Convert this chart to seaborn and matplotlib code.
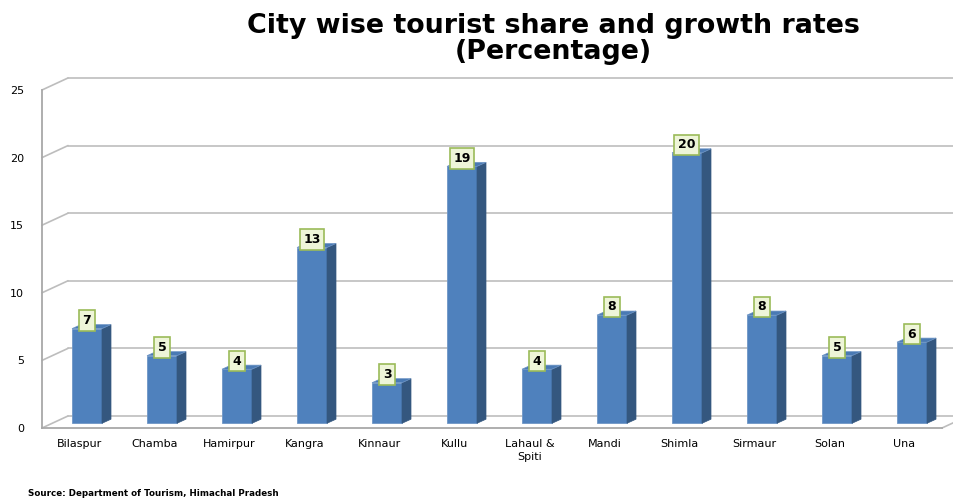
import numpy as np
import pandas as pd
import matplotlib
matplotlib.use('Agg')
import matplotlib.pyplot as plt
from matplotlib.patches import Polygon
import seaborn as sns

cities = ['Bilaspur', 'Chamba', 'Hamirpur', 'Kangra', 'Kinnaur', 'Kullu',
          'Lahaul &\nSpiti', 'Mandi', 'Shimla', 'Sirmaur', 'Solan', 'Una']
share = [7, 5, 4, 13, 3, 19, 4, 8, 20, 8, 5, 6]
yticks = [0, 5, 10, 15, 20, 25]

sns.set_style('white')
plt.rcParams['font.family'] = ['DejaVu Sans']

df = pd.DataFrame({'city': cities, 'share': share})

fig = plt.figure(figsize=(9.54, 5.01), dpi=100)
ax = fig.add_axes([42/954, 73/501, 900/954, 338/501])

sns.barplot(data=df, x='city', y='share', width=0.4, color='#4F81BD',
            saturation=1, ax=ax, zorder=3)

SIDE = '#34577F'
TOP = '#4A7AB4'
GRID = '#BDBDBD'
# depth of the bar (side face) and of the back wall, in data units
dx, dy = 0.12, 0.30
bx, by = 0.347, 0.89
lift = 0.35

for p, v in zip(ax.patches, share):
    p.set_x(p.get_x() + 0.1)
    p.set_y(lift)
    p.set_edgecolor('#6F96C6')
    p.set_linewidth(0.6)
    x0, x1 = p.get_x(), p.get_x() + p.get_width()
    y0, y1 = lift, lift + v
    ax.add_patch(Polygon([(x1, y0), (x1 + dx, y0 + dy), (x1 + dx, y1 + dy), (x1, y1)],
                         closed=True, facecolor=SIDE, edgecolor=SIDE, lw=0.5, zorder=3))
    ax.add_patch(Polygon([(x0, y1), (x1, y1), (x1 + dx, y1 + dy), (x0 + dx, y1 + dy)],
                         closed=True, facecolor=TOP, edgecolor='#6F96C6', lw=0.5, zorder=3))
    ax.text((x0 + x1) / 2, v + 0.95, f'{v}', ha='center', va='center', fontsize=9,
            fontweight='bold', color='black', zorder=5,
            bbox=dict(boxstyle='square,pad=0.3', facecolor='#EEF5D8',
                      edgecolor='#9BBB59', lw=1.2))

ax.set_xlim(-0.5, 11.5)
ax.set_ylim(0, 25)

# walls: side wall diagonals, back wall gridlines, floor
for v in yticks:
    ax.plot([-0.5, -0.5 + bx], [v, v + by], color=GRID, lw=1.2, clip_on=False, zorder=1)
    ax.plot([-0.5 + bx, 11.5 + bx], [v + by, v + by], color=GRID, lw=1.2,
            clip_on=False, zorder=1)
ax.plot([11.5, 11.5 + bx], [0, by], color=GRID, lw=1.2, clip_on=False, zorder=1)

for s in ['top', 'right']:
    ax.spines[s].set_visible(False)
for s in ['left', 'bottom']:
    ax.spines[s].set_color('#A8A8A8')
    ax.spines[s].set_linewidth(1.3)

ax.set_yticks(yticks)
ax.set_xticks(range(len(cities)))
ax.set_xticklabels(cities, fontsize=8, color='black', linespacing=1.3)
ax.set_xticks(np.arange(-0.5, 12, 1), minor=True)
ax.tick_params(axis='x', which='major', length=0, pad=8)
ax.tick_params(axis='x', which='minor', length=5, color='#A8A8A8', width=1.2, direction='out')
ax.tick_params(axis='y', length=5, color='#A8A8A8', width=1.2, labelsize=8,
               labelcolor='black', pad=8)
ax.set_xlabel('')
ax.set_ylabel('')

fig.text(0.58, 0.923, 'City wise tourist share and growth rates\n(Percentage)',
         ha='center', va='center', fontsize=19.4, fontweight='bold', color='black',
         linespacing=1.0)
fig.text(28/954, 1 - 494/501, 'Source: Department of Tourism, Himachal Pradesh',
         ha='left', va='center', fontsize=6.3, fontweight='bold', color='black')

fig.savefig('out.png', dpi=100)
